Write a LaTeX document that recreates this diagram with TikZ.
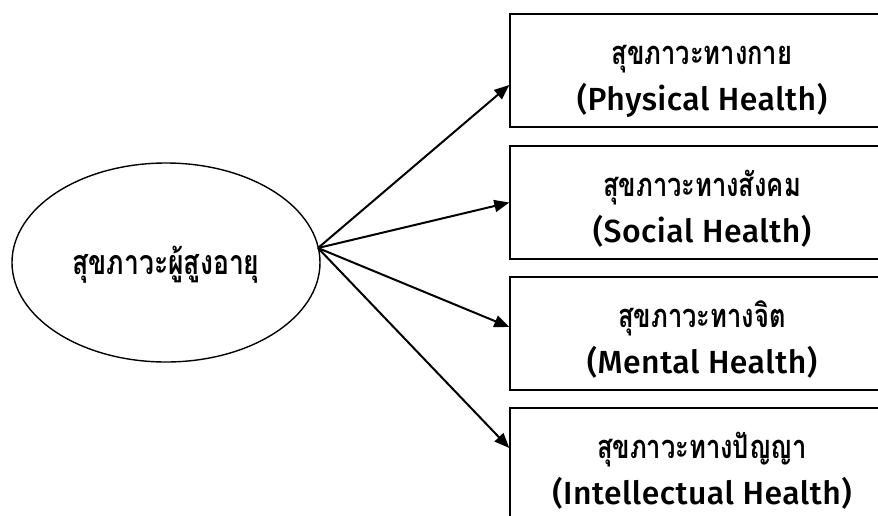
\documentclass[tikz,border=0pt]{standalone}
\usepackage{fontspec}
\usepackage{graphicx}
\usetikzlibrary{shapes.geometric,arrows.meta}
\setmainfont[Script=Thai]{Loma}
\IfFontExistsTF{Fira Sans Medium}
  {\newfontfamily\latinfont[LetterSpace=1.5]{Fira Sans Medium}}
  {\newfontfamily\latinfont[LetterSpace=2]{Fira Sans}}
% Thai lines: Loma, stretched upward to a taller body
\newcommand{\thai}[1]{\scalebox{1}[1.28]{\bfseries\fontsize{25.5}{30}\selectfont #1}}
% Latin lines
\newcommand{\eng}[1]{{\latinfont\fontsize{32}{36}\selectfont #1}}
\begin{document}
\begin{tikzpicture}[x=1pt,y=-1pt,
  outline/.style={draw=black,line width=1.4pt},
  hubnode/.style={outline,ellipse,minimum width=308pt,minimum height=199pt,inner sep=0pt},
  aspectbox/.style={outline,rectangle,minimum width=384pt,minimum height=113pt,inner sep=0pt},
  linetext/.style={anchor=base,inner sep=0pt},
  link/.style={line width=2pt,-{Triangle[length=15pt,width=12pt]}}]
\clip (0,0) rectangle (878,515);
\fill[white] (0,0) rectangle (878,515);

% central concept
\node[hubnode] (root) at (166,262.5) {};
\node[linetext] (rootlabel) at (166,274) {\scalebox{1.04}{\thai{สุขภาวะผู้สูงอายุ}}};

% the four dimensions
\node[aspectbox] (b1) at (702,70.5) {};
\node[aspectbox] (b2) at (702,202.5) {};
\node[aspectbox] (b3) at (702,333.5) {};
\node[aspectbox] (b4) at (702,464.5) {};

\node[linetext] (t1) at ([yshift=-51pt]b1.north) {\thai{สุขภาวะทางกาย}};
\node[linetext] (e1) at ([yshift=-97pt]b1.north) {\eng{(Physical Health)}};
\node[linetext] (t2) at ([yshift=-51pt]b2.north) {\thai{สุขภาวะทางสังคม}};
\node[linetext] (e2) at ([yshift=-97pt]b2.north) {\eng{(Social Health)}};
\node[linetext] (t3) at ([yshift=-51pt]b3.north) {\thai{สุขภาวะทางจิต}};
\node[linetext] (e3) at ([yshift=-97pt]b3.north) {\eng{(Mental Health)}};
\node[linetext] (t4) at ([yshift=-51pt]b4.north) {\thai{สุขภาวะทางปัญญา}};
\node[linetext] (e4) at ([yshift=-97pt]b4.north) {\eng{(Intellectual Health)}};

% arrows fanning out from the ellipse
\coordinate (hub) at (318,248);
\draw[link] (hub) -- ([yshift=-14.5pt]b1.west);
\draw[link] (hub) -- (b2.west);
\draw[link] (hub) -- ([yshift=6.5pt]b3.west);
\draw[link] (hub) -- ([yshift=16.5pt]b4.west);
\end{tikzpicture}
\end{document}
